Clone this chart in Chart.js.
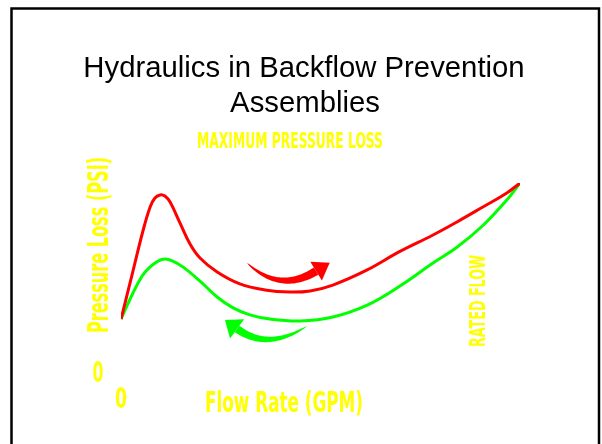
<!DOCTYPE html>
<html>
<head>
<meta charset="utf-8">
<script src="https://cdn.jsdelivr.net/npm/chart.js@4.4.1/dist/chart.umd.min.js"></script>
<style>
  html, body { margin: 0; padding: 0; background: #fff; }
  #wrap { width: 602px; height: 444px; }
</style>
</head>
<body>
<div id="wrap"><canvas id="chart"></canvas></div>
<script>
// Flow rate: 0 = no flow, 100 = rated flow. Pressure loss: 0..100 (rated flow = 100)
// Red curve: valve opening (flow increasing)
const flowOpening = [0, 3.0, 5.5, 7.3, 8.5, 9.8, 11.0, 12.3, 14.8, 17.3, 19.8, 24.1, 29.8, 36.1, 42.4, 47.4, 53.1, 61.7, 69.9, 78.2, 84.2, 90.7, 96.7, 100];
const lossOpening = [28.0, 53.4, 74.6, 87.3, 92.1, 93.7, 93.1, 89.9, 78.8, 67.7, 60.3, 52.9, 46.6, 43.4, 42.3, 42.9, 46.0, 54.0, 63.8, 72.5, 79.4, 87.3, 94.7, 100];

// Green curve: valve closing (flow decreasing)
const flowClosing = [0, 3.0, 5.3, 7.3, 9.3, 11.0, 13.0, 15.5, 19.8, 24.1, 28.1, 32.3, 37.3, 44.9, 53.1, 61.7, 69.9, 78.2, 84.2, 90.7, 96.7, 100];
const lossClosing = [28.0, 41.8, 50.8, 55.6, 58.7, 59.8, 58.7, 55.6, 48.1, 39.7, 33.9, 30.2, 28.0, 27.0, 29.1, 35.4, 45.5, 57.7, 66.0, 77.5, 91.0, 100];

const titleLines = ["Hydraulics in Backflow Prevention", "Assemblies"];
const maxLossLabel = "MAXIMUM PRESSURE LOSS";
const yAxisLabel = "Pressure Loss (PSI)";
const xAxisLabel = "Flow Rate (GPM)";
const ratedFlowLabel = "RATED FLOW";
const zeroTick = "0";

const YELLOW = "#ffff00";
const NARROW = '"Liberation Sans Narrow", "DejaVu Sans Condensed", sans-serif';

function toPoints(xs, ys) {
  return xs.map((x, i) => ({ x: x, y: ys[i] }));
}

// text squeezed to a given width, optionally turned upright
function fitText(ctx, text, x, y, size, width, vertical) {
  ctx.save();
  ctx.font = "bold " + size + "px " + NARROW;
  ctx.fillStyle = YELLOW;
  ctx.textAlign = "center";
  ctx.textBaseline = "alphabetic";
  let w = ctx.measureText(text).width;
  ctx.translate(x, y);
  if (vertical) ctx.rotate(-Math.PI / 2);
  ctx.scale(width / w, 1);
  ctx.fillText(text, 0, 0);
  ctx.restore();
}

// curved tapering arrow, quadratic from p0 via c to p1, head at p1
function drawArrow(ctx, p0, c, p1, bodyW, headW, headL, color) {
  const q = (t, a, b, d) => (1 - t) * (1 - t) * a + 2 * (1 - t) * t * b + t * t * d;
  let left = [], right = [];
  const n = 40;
  for (let i = 0; i <= n; i++) {
    let t = i / n;
    let x = q(t, p0.x, c.x, p1.x);
    let y = q(t, p0.y, c.y, p1.y);
    let dx = 2 * (1 - t) * (c.x - p0.x) + 2 * t * (p1.x - c.x);
    let dy = 2 * (1 - t) * (c.y - p0.y) + 2 * t * (p1.y - c.y);
    let len = Math.hypot(dx, dy);
    let nx = -dy / len, ny = dx / len;
    let w = bodyW * Math.pow(t, 0.6) / 2;
    left.push([x + nx * w, y + ny * w]);
    right.push([x - nx * w, y - ny * w]);
  }
  ctx.save();
  ctx.fillStyle = color;
  ctx.beginPath();
  ctx.moveTo(left[0][0], left[0][1]);
  left.forEach(p => ctx.lineTo(p[0], p[1]));
  right.reverse().forEach(p => ctx.lineTo(p[0], p[1]));
  ctx.closePath();
  ctx.fill();

  let tx = p1.x - c.x, ty = p1.y - c.y;
  let tl = Math.hypot(tx, ty);
  tx /= tl; ty /= tl;
  let nx = -ty, ny = tx;
  ctx.beginPath();
  ctx.moveTo(p1.x + tx * headL, p1.y + ty * headL);
  ctx.lineTo(p1.x + nx * headW, p1.y + ny * headW);
  ctx.lineTo(p1.x - nx * headW, p1.y - ny * headW);
  ctx.closePath();
  ctx.fill();
  ctx.restore();
}

const slidePlugin = {
  id: "slide",
  beforeDraw(chart) {
    const ctx = chart.ctx;
    ctx.save();
    ctx.fillStyle = "#ffffff";
    ctx.fillRect(0, 0, chart.width, chart.height);
    ctx.strokeStyle = "#000000";
    ctx.lineWidth = 2.5;
    ctx.strokeRect(11.5, 8.5, 587.5, 460);
    ctx.restore();
  },
  afterDatasetsDraw(chart) {
    const ctx = chart.ctx;
    const xs = chart.scales.x, ys = chart.scales.y;
    const px = (fx, py) => ({ x: xs.getPixelForValue(fx), y: ys.getPixelForValue(py) });

    // direction arrows (in flow / loss units)
    drawArrow(ctx, px(31.6, 57.7), px(39.8, 41.5), px(48.9, 53.4), 8.5, 11, 16, "#ff0000");
    drawArrow(ctx, px(46.6, 24.3), px(36.8, 11.0), px(29.1, 22.8), 8, 12, 15, "#00ff00");

    // title
    ctx.save();
    ctx.font = '29.3px "Liberation Sans", Arial, sans-serif';
    ctx.fillStyle = "#000000";
    ctx.textAlign = "center";
    ctx.textBaseline = "alphabetic";
    ctx.fillText(titleLines[0], 304, 77);
    ctx.fillText(titleLines[1], 305, 112);
    ctx.restore();

    const a = chart.chartArea;
    fitText(ctx, maxLossLabel, 290, 148, 21, 186, false);
    fitText(ctx, yAxisLabel, 108, 245, 28, 176, true);
    fitText(ctx, xAxisLabel, 284, 412, 28, 158, false);
    fitText(ctx, ratedFlowLabel, 485, 301, 21, 92, true);
    fitText(ctx, zeroTick, a.left - 23, ys.getPixelForValue(0) + 10, 28, 11, false);
    fitText(ctx, zeroTick, xs.getPixelForValue(0), a.bottom + 36, 28, 12, false);
  }
};

new Chart(document.getElementById("chart"), {
  type: "line",
  data: {
    datasets: [
      {
        label: "Opening",
        data: toPoints(flowOpening, lossOpening),
        borderColor: "#ff0000",
        borderWidth: 3,
        pointRadius: 0,
        tension: 0.4,
        fill: false
      },
      {
        label: "Closing",
        data: toPoints(flowClosing, lossClosing),
        borderColor: "#00ff00",
        borderWidth: 3,
        pointRadius: 0,
        tension: 0.4,
        fill: false
      }
    ]
  },
  options: {
    responsive: true,
    maintainAspectRatio: false,
    animation: false,
    layout: { padding: { left: 121, right: 82, top: 183, bottom: 72 } },
    scales: {
      x: { type: "linear", min: 0, max: 100, display: false },
      y: { type: "linear", min: 0, max: 100, display: false }
    },
    plugins: {
      legend: { display: false },
      title: { display: false },
      tooltip: { enabled: false }
    }
  },
  plugins: [slidePlugin]
});
</script>
</body>
</html>
